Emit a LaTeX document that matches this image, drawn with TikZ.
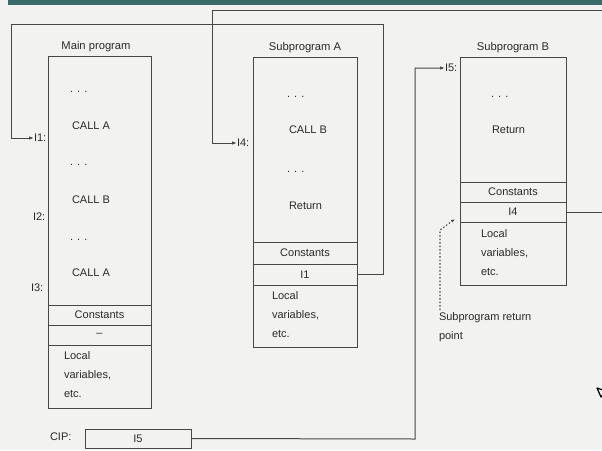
\documentclass[tikz,border=0pt]{standalone}
\usepackage{fontspec}
\setmainfont{Liberation Sans}
\usetikzlibrary{arrows.meta}
\definecolor{bar}{HTML}{3A6A6A}
\definecolor{ink}{HTML}{474747}
\definecolor{txt}{HTML}{2A2A2A}
\definecolor{paper}{HTML}{F2F2F0}
\begin{document}
\begin{tikzpicture}[x=1pt,y=-1pt,
  box/.style={draw=ink,line width=1pt,inner sep=0pt,outer sep=0pt},
  lbl/.style={inner sep=0pt,outer sep=0pt,text=txt,font=\fontsize{11}{12}\selectfont},
  ttl/.style={inner sep=0pt,text=txt,font=\fontsize{11.2}{12}\selectfont},
  multi/.style={lbl,align=left,anchor=north west,font=\fontsize{11}{19}\selectfont},
  conn/.style={draw=ink,line width=1pt},
  arr/.style={conn,-{Latex[length=5pt,width=3.5pt]}}]
\useasboundingbox (0,0) rectangle (602,450);
\clip (0,0) rectangle (602,450);
\fill[paper] (0,0) rectangle (602,450);
\fill[bar] (8,0) rectangle (602,5);

% Main program
\node[ttl] (tmain) at (96,47) {Main program};
\node[box,minimum width=103,minimum height=249] (mbody) at (99.5,180.5) {};
\node[box,minimum width=103,minimum height=20] (mconst) at (99.5,315) {};
\node[box,minimum width=103,minimum height=20] (mret) at (99.5,335) {};
\node[box,minimum width=103,minimum height=63] (mlocal) at (99.5,376.5) {};
\node[lbl] (mcon) at (mconst) {Constants};
\node[lbl] (mdash) at (mret) {--};
\node[multi] (mloc) at (64,352) {Local\\variables,\\etc.};
\node[lbl,anchor=west] (m1) at (70,92) {. . .};
\node[lbl,anchor=west] (m2) at (72,126) {CALL A};
\node[lbl,anchor=west] (m3) at (70,165) {. . .};
\node[lbl,anchor=west] (m4) at (72,200) {CALL B};
\node[lbl,anchor=west] (m5) at (70,240) {. . .};
\node[lbl,anchor=west] (m6) at (72,273) {CALL A};
\node[lbl,anchor=west] (I1) at (34,138) {I1:};
\node[lbl,anchor=west] (I2) at (33,217) {I2:};
\node[lbl,anchor=west] (I3) at (31,288) {I3:};

% Subprogram A
\node[ttl] (tA) at (305,48) {Subprogram A};
\node[box,minimum width=104,minimum height=185] (abody) at (305,149.5) {};
\node[box,minimum width=104,minimum height=22] (aconst) at (305,253) {};
\node[box,minimum width=104,minimum height=21] (aret) at (305,274.5) {};
\node[box,minimum width=104,minimum height=62] (alocal) at (305,316) {};
\node[lbl] (acon) at (aconst) {Constants};
\node[lbl] (aI1) at (aret) {I1};
\node[multi] (aloc) at (272,292) {Local\\variables,\\etc.};
\node[lbl,anchor=west] (a1) at (287,97) {. . .};
\node[lbl,anchor=west] (a2) at (289,130) {CALL B};
\node[lbl,anchor=west] (a3) at (287,172) {. . .};
\node[lbl,anchor=west] (a4) at (289,206) {Return};
\node[lbl,anchor=west] (I4) at (237,143) {I4:};

% Subprogram B
\node[ttl] (tB) at (513,48) {Subprogram B};
\node[box,minimum width=106,minimum height=125] (bbody) at (513,119.5) {};
\node[box,minimum width=106,minimum height=20] (bconst) at (513,192) {};
\node[box,minimum width=106,minimum height=20] (bret) at (513,212) {};
\node[box,minimum width=106,minimum height=63] (blocal) at (513,253.5) {};
\node[lbl] (bcon) at (bconst) {Constants};
\node[lbl] (bI4) at (bret) {I4};
\node[multi] (bloc) at (481,230) {Local\\variables,\\etc.};
\node[lbl,anchor=west] (b1) at (491,97) {. . .};
\node[lbl,anchor=west] (b2) at (492,130) {Return};
\node[lbl,anchor=west] (I5) at (445,68) {I5:};

% CIP
\node[lbl,anchor=west] (cipl) at (50,437) {CIP:};
\node[box,minimum width=106,minimum height=19] (cip) at (138,438.5) {};
\node[lbl] (cipv) at (cip) {I5};

% return point
\node[multi] (rtxt) at (439,313) {Subprogram return\\point};

% connectors
\coordinate (c1) at (383,24);
\coordinate (c2) at (11,24);
\draw[arr] (aret.east) -| (c1) -- (c2) |- (I1.west);
\coordinate (c3) at (612,10);
\coordinate (c4) at (212,10);
\draw[arr] (bret.east) -| (c3) -- (c4) |- (I4.west);
\coordinate (c5) at (415,439);
\draw[arr] (cip.east) -- (c5) |- (I5.west);
\coordinate (c6) at (440,230);
\coordinate (c7) at (455,219);
\draw[conn,dash pattern=on 1.5pt off 2pt,line width=1.1pt,-{Latex[length=4pt,width=3pt]}] ([xshift=1pt,yshift=3pt]rtxt.north west) -- (c6) -- (c7);

% cursor
\draw[black,line width=1.2pt,line join=round] (597,388) -- (606,391) -- (601,397) -- cycle;
\end{tikzpicture}
\end{document}
